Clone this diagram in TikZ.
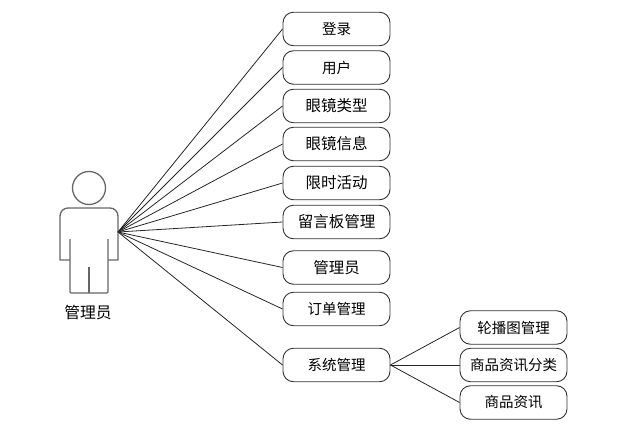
\documentclass[tikz,border=0pt]{standalone}
\usepackage{fontspec}
\newfontfamily\cjk{Noto Sans CJK SC}
\usetikzlibrary{positioning}
\tikzset{
  menubox/.style={draw=black!80, line width=0.9pt, rounded corners=10.5pt, minimum width=107pt, minimum height=33.5pt, inner sep=0pt, fill=white, font=\cjk\fontsize{14.5}{16}\selectfont},
  bigbox/.style={menubox, font=\cjk\fontsize{15.5}{17}\selectfont},
  link/.style={draw=black!85, line width=0.8pt},
  actorline/.style={draw=black!60, line width=1.3pt, line join=round}
}
\begin{document}
\begin{tikzpicture}[x=1pt,y=-1pt]
\useasboundingbox (0,0) rectangle (623,441);
% actor
\draw[actorline] (89,188) circle (16.5pt);
\draw[actorline] (70,260) -- (60,260) [rounded corners=8pt] -- (60,208) -- (118,208) [sharp corners] -- (118,260) -- (108,260);
\draw[actorline, rounded corners=1pt] (70,239) -- (70,293) -- (108,293) -- (108,239);
\draw[actorline] (89,267) -- (89,293);
\coordinate (actor) at (118,232);
\node[font=\cjk\fontsize{15.8}{17}\selectfont] (actorname) at (88,312) {管理员};
% menu
\node[menubox] (login) at (336.5,29) {登录};
\node[menubox] (user) at (336.5,67.5) {用户};
\node[bigbox] (gtype) at (336.5,106) {眼镜类型};
\node[bigbox] (ginfo) at (336.5,144) {眼镜信息};
\node[bigbox] (sale) at (336.5,183) {限时活动};
\node[bigbox] (board) at (336.5,222) {留言板管理};
\node[bigbox] (admin) at (336.5,267.5) {管理员};
\node[menubox] (order) at (336.5,309) {订单管理};
\node[menubox] (sys) at (336.5,365) {系统管理};
\node[menubox] (banner) at (513.5,327.5) {轮播图管理};
\node[menubox] (ncat) at (513.5,365) {商品资讯分类};
\node[menubox] (news) at (513.5,402.5) {商品资讯};
\foreach \n in {login,user,gtype,ginfo,sale,board,admin,order,sys}
  \draw[link] (actor) -- (\n.west);
\foreach \n in {banner,ncat,news}
  \draw[link] (sys.east) -- (\n.west);
\end{tikzpicture}
\end{document}
